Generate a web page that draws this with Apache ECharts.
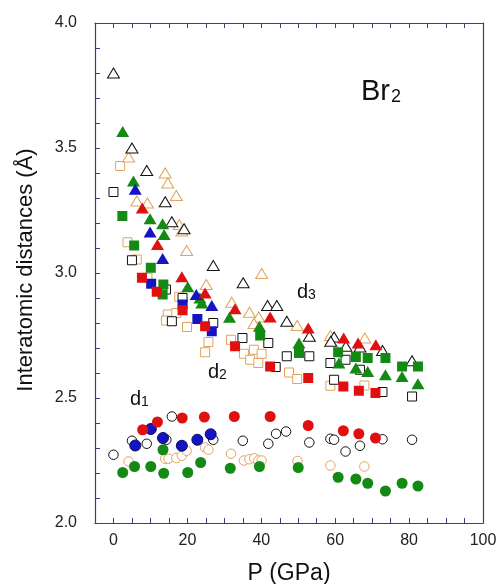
<!DOCTYPE html>
<html>
<head>
<meta charset="utf-8">
<script src="https://cdn.jsdelivr.net/npm/echarts@6/dist/echarts.min.js"></script>
<style>
html,body{margin:0;padding:0;background:#fff;}
#chart{width:496px;height:584px;}
</style>
</head>
<body>
<div id="chart"></div>
<script>
// Data: [pressure GPa, distance Å]
var blackOpenTri = [[0,3.80],[5,3.50],[9,3.41],[14,3.285],[15.8,3.205],[19.1,3.177],[27,3.03],[35.1,2.961],[41.7,2.87],[44.2,2.87],[46.9,2.807],[53,2.747],[59.7,2.744],[58.8,2.727],[62.9,2.707],[66.7,2.704],[72.8,2.69],[80.8,2.649]];
var orangeOpenTri = [[4.1,3.464],[14,3.40],[14.7,3.36],[17,3.31],[6.3,3.288],[9.2,3.28],[17.8,3.194],[18.5,3.168],[19.8,3.09],[40.1,2.998],[25.1,2.954],[32,2.883],[36.8,2.843],[39.3,2.824],[38,2.798],[49.7,2.79],[58.7,2.75],[68,2.74]];
var greenTri = [[2.5,3.566],[5.4,3.368],[9.9,3.217],[13.3,3.197],[13.7,3.154],[20.1,2.945],[23.4,2.90],[23.9,2.88],[31.4,2.823],[39.5,2.787],[50.2,2.72],[61,2.64],[65.6,2.62],[68.8,2.606],[73.6,2.593],[78.1,2.586],[82.4,2.557]];
var blueTri = [[5.9,3.335],[9.9,3.164],[13.3,3.058],[22.4,2.914],[26.6,2.87]];
var redTri = [[7.8,3.26],[11.9,3.114],[18.5,2.985],[24.8,2.92],[32.9,2.857],[42.4,2.824],[52.7,2.78],[62.3,2.74],[66.2,2.72],[71,2.713]];
var blackOpenSq = [[0,3.324],[5,3.051],[14.2,2.934],[18.7,2.90],[15.8,2.807],[27,2.80],[34.9,2.74],[41.9,2.72],[46.9,2.667],[43.9,2.624],[53,2.667],[58.7,2.64],[62.8,2.653],[66.7,2.613],[59.7,2.573],[72.8,2.524],[80.8,2.506]];
var orangeOpenSq = [[1.8,3.428],[3.8,3.123],[6.3,3.054],[9.2,2.981],[17.8,2.905],[14.7,2.834],[17,2.84],[14.2,2.81],[19.9,2.784],[25.7,2.724],[24.8,2.683],[31.8,2.733],[35.3,2.677],[38,2.693],[40.1,2.677],[37,2.653],[39.2,2.64],[47.5,2.602],[49.7,2.576],[58.7,2.549],[67.9,2.55]];
var greenSq = [[2.4,3.228],[5.6,3.11],[10.1,3.021],[13.5,2.954],[13.3,2.914],[39.7,2.75],[50.2,2.68],[60.8,2.683],[65.6,2.664],[68.8,2.66],[73.6,2.66],[78.1,2.626],[82.4,2.626]];
var blueSq = [[10.2,2.957],[18.7,2.874],[22.7,2.816],[26.6,2.767]];
var redSq = [[7.7,2.981],[11.7,2.925],[18.7,2.851],[24.8,2.787],[32.9,2.707],[42.4,2.626],[52.7,2.58],[62.2,2.546],[66.4,2.529],[70.9,2.52]];
var blackOpenCircle = [[0,2.273],[5,2.329],[9,2.317],[15.8,2.426],[14.3,2.333],[27,2.333],[35,2.329],[41.9,2.317],[44,2.357],[46.7,2.366],[53,2.322],[58.7,2.337],[59.7,2.333],[62.8,2.286],[66.7,2.309],[72.8,2.335],[80.8,2.333]];
var orangeOpenCircle = [[4.1,2.246],[14,2.257],[14.9,2.257],[17,2.26],[18.5,2.269],[19.8,2.289],[24.8,2.302],[25.7,2.293],[31.8,2.277],[35.3,2.25],[36.8,2.255],[38.1,2.259],[39.2,2.25],[40.1,2.25],[49.8,2.248],[58.7,2.23],[67.9,2.226]];
var greenCircle = [[2.5,2.202],[5.7,2.226],[10.1,2.226],[13.6,2.199],[13.4,2.293],[20.1,2.202],[23.6,2.242],[31.6,2.219],[39.5,2.226],[50,2.222],[60.8,2.183],[65.6,2.176],[68.8,2.159],[73.6,2.128],[78.1,2.159],[82.4,2.148]];
var blueCircle = [[5.9,2.31],[10.1,2.376],[13.4,2.34],[18.5,2.309],[22.7,2.333],[26.3,2.355]];
var redCircle = [[7.9,2.373],[11.9,2.404],[18.6,2.42],[24.6,2.424],[32.7,2.426],[42.4,2.426],[52.7,2.39],[62.2,2.369],[66.4,2.357],[70.9,2.34]];

var xTickLabels = [0, 20, 40, 60, 80, 100];
var yTickLabels = ['2.0', '2.5', '3.0', '3.5', '4.0'];

var FRAME = '#3d3d7a';
var FONT = 'Liberation Sans, Arial, sans-serif';
var GREEN = '#138a13', RED = '#e01010', BLUE = '#1414c4', ORANGE = '#e0a55c', BLACK = '#111111';

function sc(data, symbol, size, fill, border, bw) {
  return {
    type: 'scatter', data: data, symbol: symbol, symbolSize: size,
    itemStyle: { color: fill, borderColor: border, borderWidth: bw, opacity: 1 },
    emphasis: { disabled: true }
  };
}

var chart = echarts.init(document.getElementById('chart'), null, { renderer: 'canvas' });
chart.setOption({
  animation: false,
  backgroundColor: '#ffffff',
  grid: { left: 95, right: 13, top: 23, bottom: 61, containLabel: false, outerBoundsMode: 'none' },
  xAxis: [{
    type: 'value', min: -5, max: 100, interval: 5, position: 'bottom',
    axisLine: { show: true, onZero: false, lineStyle: { color: FRAME, width: 1.2 } },
    axisTick: { show: true, inside: true, length: 5, lineStyle: { color: FRAME } },
    splitLine: { show: false },
    axisLabel: {
      margin: 10, color: '#222', fontSize: 16, fontFamily: FONT,
      formatter: function (v) { return xTickLabels.indexOf(Math.round(v)) >= 0 ? String(Math.round(v)) : ''; }
    },
    name: 'P (GPa)', nameLocation: 'middle', nameGap: 39,
    nameTextStyle: { color: '#111', fontSize: 23, fontFamily: FONT }
  }, {
    type: 'value', min: -5, max: 100, interval: 5, position: 'top',
    axisLine: { show: true, onZero: false, lineStyle: { color: FRAME, width: 1.2 } },
    axisTick: { show: true, inside: true, length: 5, lineStyle: { color: FRAME } },
    splitLine: { show: false }, axisLabel: { show: false }
  }],
  yAxis: [{
    type: 'value', min: 2, max: 4, interval: 0.1, position: 'left',
    axisLine: { show: true, onZero: false, lineStyle: { color: FRAME, width: 1.2 } },
    axisTick: { show: true, inside: true, length: 5, lineStyle: { color: FRAME } },
    splitLine: { show: false },
    axisLabel: {
      margin: 18, color: '#222', fontSize: 16, fontFamily: FONT,
      formatter: function (v) { var s = (Math.round(v * 10) / 10).toFixed(1); return yTickLabels.indexOf(s) >= 0 ? s : ''; }
    },
    name: 'Interatomic distances (Å)', nameLocation: 'middle', nameGap: 58,
    nameTextStyle: { color: '#111', fontSize: 22, fontFamily: FONT, padding: [0, 0, 0, 6] }
  }, {
    type: 'value', min: 2, max: 4, interval: 0.1, position: 'right',
    axisLine: { show: true, onZero: false, lineStyle: { color: FRAME, width: 1.2 } },
    axisTick: { show: false }, splitLine: { show: false }, axisLabel: { show: false }
  }],
  series: [
    sc(orangeOpenSq, 'rect', 9, '#fff', ORANGE, 1),
    sc(blackOpenSq, 'rect', 9, '#fff', BLACK, 1),
    sc(orangeOpenTri, 'triangle', [12, 10], '#fff', ORANGE, 1),
    sc(blackOpenTri, 'triangle', [12, 10], '#fff', BLACK, 1),
    sc(greenSq, 'rect', 10, GREEN, GREEN, 0),
    sc(blueSq, 'rect', 10, BLUE, BLUE, 0),
    sc(redSq, 'rect', 10, RED, RED, 0),
    sc(greenTri, 'triangle', [13, 11], GREEN, GREEN, 0),
    sc(blueTri, 'triangle', [13, 11], BLUE, BLUE, 0),
    sc(redTri, 'triangle', [13, 11], RED, RED, 0),
    sc(orangeOpenCircle, 'circle', 9.5, '#fff', ORANGE, 1),
    sc(blackOpenCircle, 'circle', 9.5, '#fff', BLACK, 1),
    sc(greenCircle, 'circle', 11, GREEN, GREEN, 0),
    sc(blueCircle, 'circle', 11, BLUE, '#0a0a60', 1),
    sc(redCircle, 'circle', 11, RED, RED, 0)
  ],
  graphic: [
    { type: 'text', left: 361, top: 77, style: { text: '{a|Br}{b|2}', rich: { a: { fontSize: 29, fontFamily: FONT, fill: '#111', verticalAlign: 'bottom', lineHeight: 29 }, b: { fontSize: 18, fontFamily: FONT, fill: '#111', verticalAlign: 'bottom', lineHeight: 21, padding: [0, 0, 0, 1] } } } },
    { type: 'text', left: 297, top: 282, style: { text: '{a|d}{b|3}', rich: { a: { fontSize: 20, fontFamily: FONT, fill: '#111', verticalAlign: 'bottom', lineHeight: 20 }, b: { fontSize: 14, fontFamily: FONT, fill: '#111', verticalAlign: 'bottom', lineHeight: 15 } } } },
    { type: 'text', left: 208, top: 362, style: { text: '{a|d}{b|2}', rich: { a: { fontSize: 20, fontFamily: FONT, fill: '#111', verticalAlign: 'bottom', lineHeight: 20 }, b: { fontSize: 14, fontFamily: FONT, fill: '#111', verticalAlign: 'bottom', lineHeight: 15 } } } },
    { type: 'text', left: 130, top: 389, style: { text: '{a|d}{b|1}', rich: { a: { fontSize: 20, fontFamily: FONT, fill: '#111', verticalAlign: 'bottom', lineHeight: 20 }, b: { fontSize: 14, fontFamily: FONT, fill: '#111', verticalAlign: 'bottom', lineHeight: 15 } } } }
  ]
});
</script>
</body>
</html>
